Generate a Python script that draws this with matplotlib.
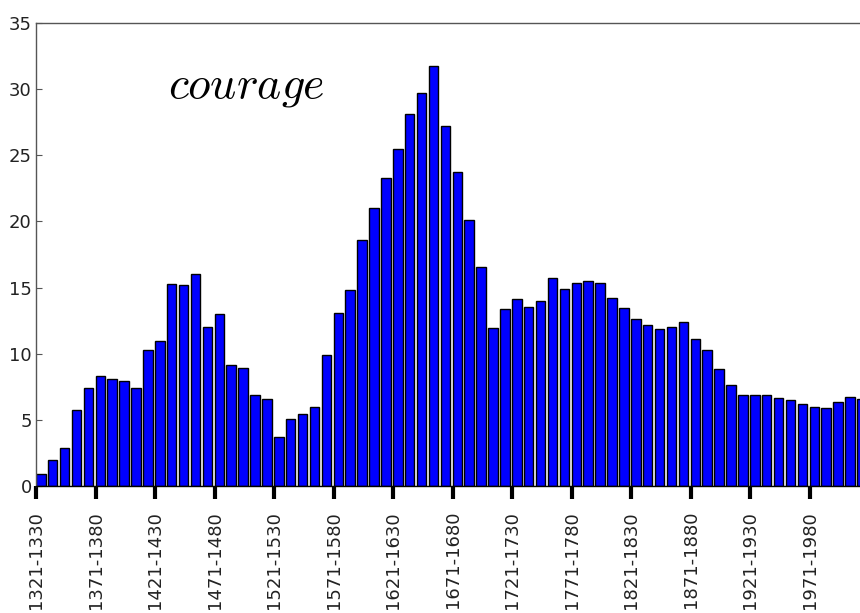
import matplotlib
matplotlib.use('Agg')
import numpy as np
from matplotlib import pyplot as plt

# relative frequency of the word per decade, 1321-1330 onwards
periods = ['%d-%d' % (y, y + 9) for y in range(1321, 2021, 10)]
freq = [0.93, 1.93, 2.88, 5.72, 7.40, 8.33, 8.08, 7.90, 7.40, 10.28,
        10.96, 15.25, 15.20, 16.00, 12.01, 13.02, 9.13, 8.90, 6.85, 6.57,
        3.68, 5.06, 5.42, 5.97, 9.91, 13.07, 14.82, 18.56, 21.00, 23.31,
        25.50, 28.12, 29.73, 31.74, 27.20, 23.70, 20.12, 16.57, 11.98, 13.40,
        14.12, 13.56, 14.00, 15.74, 14.91, 15.37, 15.49, 15.37, 14.18, 13.43,
        12.60, 12.17, 11.87, 12.04, 12.37, 11.11, 10.25, 8.87, 7.66, 6.85,
        6.90, 6.85, 6.68, 6.52, 6.22, 5.99, 5.87, 6.35, 6.75, 6.60]
word = 'courage'
label_step = 5

plt.rcParams['mathtext.fontset'] = 'cm'

fig = plt.figure(figsize=(8.6, 6.13), dpi=100)
# axes run a little past the right edge of the canvas
ax = fig.add_axes([36 / 860, 127 / 613, 833 / 860, 463 / 613])

x = np.arange(len(freq))
ax.bar(x, freq, width=0.8, align='edge', color='#0000ff',
       edgecolor='black', linewidth=1.0)

ax.set_xlim(0, len(freq))
ax.set_ylim(0, 35)
ax.set_yticks(np.arange(0, 36, 5))

ax.set_xticks(x[::label_step])
ax.set_xticklabels(periods[::label_step], rotation=90)

ax.tick_params(axis='x', direction='out', length=9, width=3, color='black',
               pad=9, labelsize=13, labelcolor='#222222', top=False)
ax.tick_params(axis='y', direction='in', length=4, width=0.8, color='#555555',
               pad=3, labelsize=13, labelcolor='#222222', right=False)

for side in ['left', 'top', 'right']:
    ax.spines[side].set_color('#555555')
    ax.spines[side].set_linewidth(1.0)
ax.spines['bottom'].set_color('black')
ax.spines['bottom'].set_linewidth(1.0)

ax.text(11.1, 29.4, r'$%s$' % word, fontsize=33, ha='left', va='baseline')

fig.savefig('out.png', dpi=100)
